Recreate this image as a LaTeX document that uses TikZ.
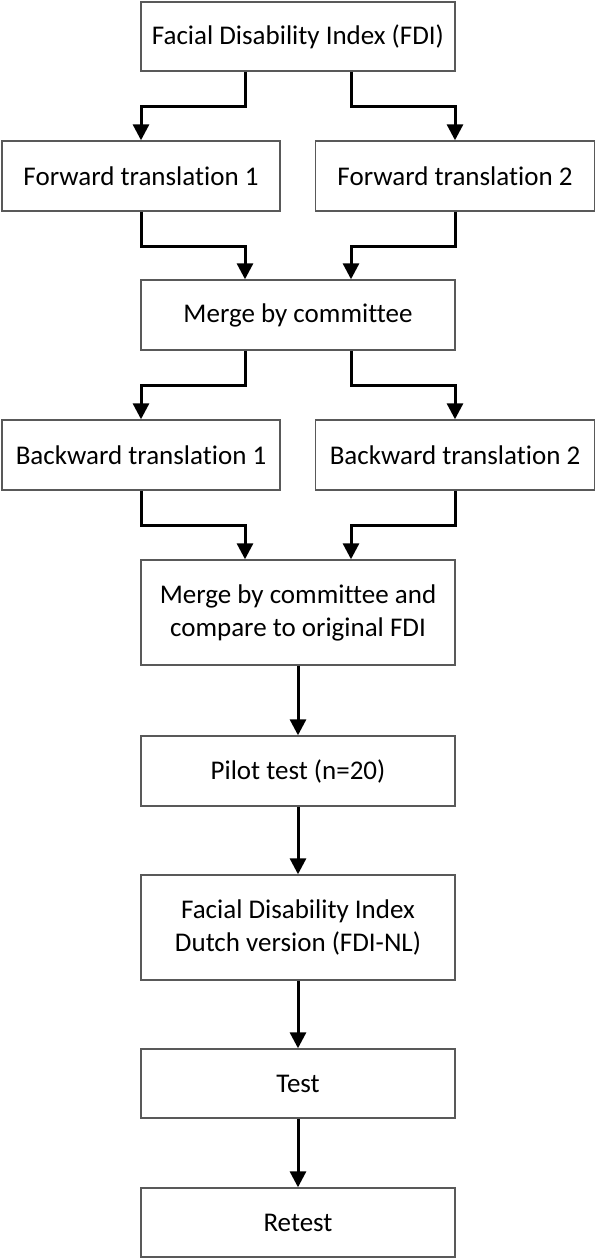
\documentclass[tikz,border=0pt]{standalone}
\usepackage{fontspec}
\setmainfont[Ligatures={NoCommon}]{Carlito}
\usetikzlibrary{arrows.meta}
\begin{document}
\begin{tikzpicture}[x=1pt,y=1pt,
  box/.style={draw=black!65,line width=1.4pt,fill=white,align=center,inner sep=0pt,
    font=\fontsize{27}{33}\selectfont},
  arr/.style={line width=3pt,-{Triangle[length=16pt,width=16pt]}}]
\useasboundingbox (0,0) rectangle (596,-1259);
\node[box,minimum width=314,minimum height=69] (b1) at (298,-36.5) {Facial Disability Index (FDI)};
\node[box,minimum width=278,minimum height=70] (b2) at (141,-176) {Forward translation 1};
\node[box,minimum width=279,minimum height=70] (b3) at (455,-176) {Forward translation 2};
\node[box,minimum width=314,minimum height=70] (b4) at (298,-315) {Merge by committee};
\node[box,minimum width=278,minimum height=70] (b5) at (141,-455) {Backward translation 1};
\node[box,minimum width=279,minimum height=70] (b6) at (455,-455) {Backward translation 2};
\node[box,minimum width=314,minimum height=105] (b7) at (298,-612.5) {Merge by committee and\\compare to original FDI};
\node[box,minimum width=314,minimum height=70] (b8) at (298,-771) {Pilot test (n=20)};
\node[box,minimum width=314,minimum height=105] (b9) at (298,-927.5) {Facial Disability Index\\Dutch version (FDI-NL)};
\node[box,minimum width=314,minimum height=69] (b10) at (298,-1083.5) {Test};
\node[box,minimum width=314,minimum height=69] (b11) at (298,-1222.5) {Retest};
\draw[arr] ([xshift=-53]b1.south) -- ++(0,-35) -| (b2.north);
\draw[arr] ([xshift=53]b1.south) -- ++(0,-35) -| (b3.north);
\draw[arr] (b2.south) -- ++(0,-35) -| ([xshift=-53]b4.north);
\draw[arr] (b3.south) -- ++(0,-35) -| ([xshift=53]b4.north);
\draw[arr] ([xshift=-53]b4.south) -- ++(0,-35) -| (b5.north);
\draw[arr] ([xshift=53]b4.south) -- ++(0,-35) -| (b6.north);
\draw[arr] (b5.south) -- ++(0,-35) -| ([xshift=-53]b7.north);
\draw[arr] (b6.south) -- ++(0,-35) -| ([xshift=53]b7.north);
\draw[arr] (b7) -- (b8);
\draw[arr] (b8) -- (b9);
\draw[arr] (b9) -- (b10);
\draw[arr] (b10) -- (b11);
\end{tikzpicture}
\end{document}
